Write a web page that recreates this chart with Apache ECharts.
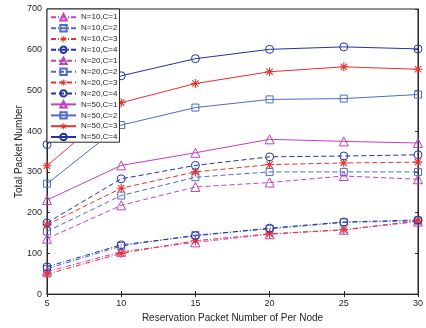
<!DOCTYPE html>
<html>
<head>
<meta charset="utf-8">
<script src="https://cdn.jsdelivr.net/npm/echarts@6/dist/echarts.min.js"></script>
<style>html,body{margin:0;padding:0;background:#fff}#c{width:426px;height:328px}</style>
</head>
<body>
<div id="c"></div>
<script>
const xValues = [5, 10, 15, 20, 25, 30];
const yTicks = [0, 100, 200, 300, 400, 500, 600, 700];
const seriesNames = ['N=10,C=1','N=10,C=2','N=10,C=3','N=10,C=4','N=20,C=1','N=20,C=2','N=20,C=3','N=20,C=4','N=50,C=1','N=50,C=2','N=50,C=3','N=50,C=4'];
const n10c1 = [55, 104, 127, 147, 158, 178];
const n10c2 = [62, 118, 145, 160, 176, 180];
const n10c3 = [49, 100, 131, 148, 158, 180];
const n10c4 = [67, 121, 143, 162, 177, 182];
const n20c1 = [136, 218, 263, 274, 290, 282];
const n20c2 = [154, 242, 287, 300, 300, 300];
const n20c3 = [170, 260, 300, 318, 322, 324];
const n20c4 = [175, 283, 316, 337, 339, 342];
const n50c1 = [231, 316, 347, 380, 375, 371];
const n50c2 = [271, 415, 458, 478, 480, 490];
const n50c3 = [315, 470, 517, 546, 558, 552];
const n50c4 = [367, 536, 578, 601, 607, 602];
const allValues = [n10c1, n10c2, n10c3, n10c4, n20c1, n20c2, n20c3, n20c4, n50c1, n50c2, n50c3, n50c4];

const colors = ['#c43fc4', '#4d6cc6', '#e8322c', '#2233a6'];
const star = 'path://M-0.12,-1L0.12,-1L0.12,1L-0.12,1Z M-1,-0.12L1,-0.12L1,0.12L-1,0.12Z M-0.622,-0.792L0.792,0.622L0.622,0.792L-0.792,-0.622Z M0.792,-0.622L-0.622,0.792L-0.792,0.622L0.622,-0.792Z';
const symbols = ['triangle', 'rect', star, 'circle'];
const symSizes = [9, 7, 9, 8];
const dashes = [[5, 2, 1, 2], [5, 3], 'solid'];

const series = allValues.map((vals, i) => {
  const c = i % 4, g = Math.floor(i / 4);
  const isStar = c === 2;
  return {
    name: seriesNames[i],
    type: 'line',
    data: xValues.map((x, k) => [x, vals[k]]),
    symbol: symbols[c],
    symbolSize: symSizes[c],
    showAllSymbol: true,
    color: colors[c],
    itemStyle: isStar
      ? { color: colors[c], borderWidth: 0 }
      : { color: 'rgba(255,255,255,0)', borderColor: colors[c], borderWidth: 1 },
    lineStyle: { color: colors[c], width: 1, type: dashes[g] },
    emphasis: { disabled: true },
    animation: false,
    z: 2
  };
});

const font = 'Liberation Sans, Arial, sans-serif';
const chart = echarts.init(document.getElementById('c'), null, { renderer: 'canvas' });
chart.setOption({
  animation: false,
  textStyle: { fontFamily: font },
  grid: { left: 47, right: 8, top: 9, bottom: 33, show: true, borderColor: '#262626', borderWidth: 1, backgroundColor: '#fff' },
  legend: {
    data: seriesNames,
    orient: 'vertical',
    left: 47, top: 9,
    padding: [4, 2, 1, 3],
    itemWidth: 25, itemHeight: 8, itemGap: 2.6,
    backgroundColor: '#fff', borderColor: '#262626', borderWidth: 1,
    textStyle: { fontSize: 8, color: '#262626', fontFamily: font, lineHeight: 8 },
    z: 10
  },
  xAxis: [{
    type: 'value', min: 5, max: 30, interval: 5,
    name: 'Reservation Packet Number of Per Node', nameLocation: 'middle', nameGap: 17,
    nameTextStyle: { fontSize: 10, color: '#262626' },
    axisLine: { lineStyle: { color: '#262626' } },
    axisTick: { inside: true, length: 3, lineStyle: { color: '#262626' } },
    axisLabel: { fontSize: 9, color: '#262626', margin: 5 },
    splitLine: { show: false }
  }, {
    type: 'value', position: 'top', min: 5, max: 30, interval: 5,
    axisLine: { lineStyle: { color: '#262626' } },
    axisTick: { inside: true, length: 3, lineStyle: { color: '#262626' } },
    axisLabel: { show: false }, splitLine: { show: false }
  }],
  yAxis: [{
    type: 'value', min: yTicks[0], max: yTicks[yTicks.length - 1], interval: 100,
    name: 'Total Packet Number', nameLocation: 'middle', nameGap: 23, nameMoveOverlap: false,
    nameTextStyle: { fontSize: 10, color: '#262626' },
    axisLine: { show: true, lineStyle: { color: '#262626' } },
    axisTick: { show: true, inside: true, length: 3, lineStyle: { color: '#262626' } },
    axisLabel: { fontSize: 9, color: '#262626', margin: 5 },
    splitLine: { show: false }
  }, {
    type: 'value', position: 'right', min: yTicks[0], max: yTicks[yTicks.length - 1], interval: 100,
    axisLine: { show: true, lineStyle: { color: '#262626' } },
    axisTick: { show: true, inside: true, length: 3, lineStyle: { color: '#262626' } },
    axisLabel: { show: false }, splitLine: { show: false }
  }],
  series: series
});
</script>
</body>
</html>
